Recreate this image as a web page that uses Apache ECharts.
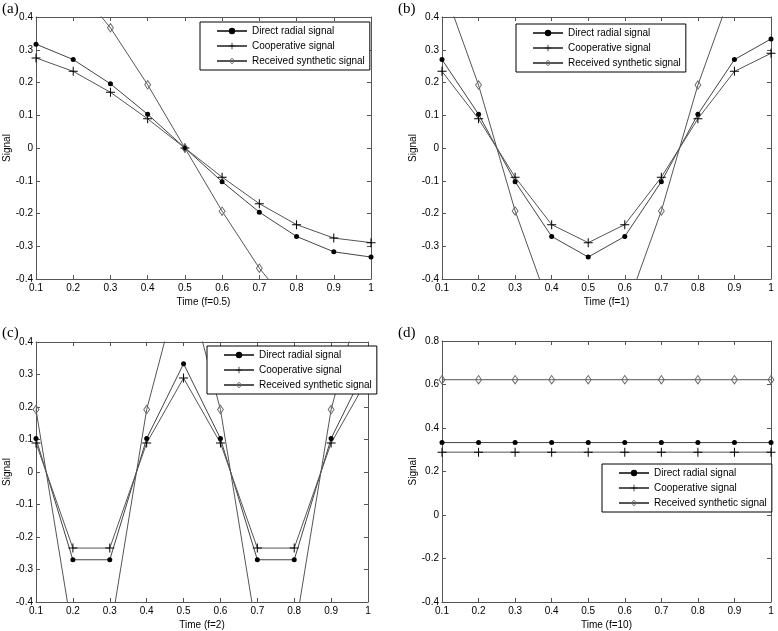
<!DOCTYPE html>
<html>
<head>
<meta charset="utf-8">
<script src="https://cdn.jsdelivr.net/npm/echarts@6/dist/echarts.min.js"></script>
<style>
  html, body { margin: 0; padding: 0; background: #fff; }
  #chart { width: 778px; height: 631px; }
</style>
</head>
<body>
<div id="chart"></div>
<script>
// time samples (x axis)
const timeTicks = [0.1, 0.2, 0.3, 0.4, 0.5, 0.6, 0.7, 0.8, 0.9, 1.0];

// (a) f=0.5
const directA = [0.317, 0.270, 0.196, 0.103, 0.000, -0.103, -0.196, -0.270, -0.317, -0.333];
const coopA   = [0.275, 0.234, 0.170, 0.089, 0.000, -0.089, -0.170, -0.234, -0.275, -0.289];
const synthA  = [0.594, 0.506, 0.367, 0.193, 0.000, -0.193, -0.367, -0.506, -0.594, -0.622];

// (b) f=1
const directB = [0.270, 0.103, -0.103, -0.270, -0.333, -0.270, -0.103, 0.103, 0.270, 0.333];
const coopB   = [0.234, 0.089, -0.089, -0.234, -0.289, -0.234, -0.089, 0.089, 0.234, 0.289];
const synthB  = [0.503, 0.192, -0.192, -0.503, -0.622, -0.503, -0.192, 0.192, 0.503, 0.622];

// (c) f=2
const directC = [0.103, -0.270, -0.270, 0.103, 0.333, 0.103, -0.270, -0.270, 0.103, 0.333];
const coopC   = [0.089, -0.234, -0.234, 0.089, 0.289, 0.089, -0.234, -0.234, 0.089, 0.289];
const synthC  = [0.192, -0.503, -0.503, 0.192, 0.622, 0.192, -0.503, -0.503, 0.192, 0.622];

// (d) f=10
const directD = [0.333, 0.333, 0.333, 0.333, 0.333, 0.333, 0.333, 0.333, 0.333, 0.333];
const coopD   = [0.289, 0.289, 0.289, 0.289, 0.289, 0.289, 0.289, 0.289, 0.289, 0.289];
const synthD  = [0.622, 0.622, 0.622, 0.622, 0.622, 0.622, 0.622, 0.622, 0.622, 0.622];

const panelLabels = ['(a)', '(b)', '(c)', '(d)'];
const xNames = ['Time (f=0.5)', 'Time (f=1)', 'Time (f=2)', 'Time (f=10)'];
const yRanges = [[-0.4, 0.4, 0.1], [-0.4, 0.4, 0.1], [-0.4, 0.4, 0.1], [-0.4, 0.8, 0.2]];
const seriesNames = ['Direct radial signal', 'Cooperative signal', 'Received synthetic signal'];

const panelData = [
    [directA, coopA, synthA],
    [directB, coopB, synthB],
    [directC, coopC, synthC],
    [directD, coopD, synthD]
];

// layout of the four boxes
const grids = [
    {left: 36, top: 17, width: 335, height: 262},
    {left: 442, top: 17, width: 329, height: 262},
    {left: 36, top: 342, width: 332, height: 261},
    {left: 442, top: 341, width: 329, height: 262}
];
const legendPos = [
    {left: 200, top: 22},
    {left: 516, top: 24},
    {left: 207, top: 346},
    {left: 602, top: 464}
];
const labelPos = [[2, 2], [398, 2], [2, 326], [398, 326]];

const FONT = 'Liberation Sans, Arial, sans-serif';
const frameColor = '#555';
// matlab-like markers: thin plus, hollow diamond
const plusPath = 'path://M0,4h9v1h-9z M4,0h1v9h-1z';
const diamondPath = 'path://M3.5,0L7,5L3.5,10L0,5Z M3.5,1.6L1.1,5L3.5,8.4L5.9,5Z';

var xAxes = [], yAxes = [], series = [], legends = [], texts = [];

grids.forEach(function (g, i) {
    // bottom + top x axes
    xAxes.push({
        type: 'value', gridIndex: i, min: 0.1, max: 1, interval: 0.1,
        name: xNames[i], nameLocation: 'middle', nameGap: 18,
        nameTextStyle: {fontFamily: FONT, fontSize: 10, color: '#000'},
        axisLine: {show: true, onZero: false, lineStyle: {color: frameColor, width: 1}},
        axisTick: {inside: true, length: 4, lineStyle: {color: frameColor}},
        axisLabel: {fontFamily: FONT, fontSize: 10, color: '#000', margin: 4, showMinLabel: true, showMaxLabel: true},
        splitLine: {show: false}
    });
    xAxes.push({
        type: 'value', gridIndex: i, position: 'top', min: 0.1, max: 1, interval: 0.1,
        axisLine: {show: true, onZero: false, lineStyle: {color: frameColor, width: 1}},
        axisTick: {inside: true, length: 4, lineStyle: {color: frameColor}},
        axisLabel: {show: false},
        splitLine: {show: false}
    });
    var yr = yRanges[i];
    yAxes.push({
        type: 'value', gridIndex: i, min: yr[0], max: yr[1], interval: yr[2],
        name: 'Signal', nameLocation: 'middle', nameGap: 23,
        nameTextStyle: {fontFamily: FONT, fontSize: 10, color: '#000'},
        axisLine: {show: true, onZero: false, lineStyle: {color: frameColor, width: 1}},
        axisTick: {inside: true, length: 4, lineStyle: {color: frameColor}},
        axisLabel: {fontFamily: FONT, fontSize: 10, color: '#000', margin: 3, showMinLabel: true, showMaxLabel: true},
        splitLine: {show: false}
    });
    yAxes.push({
        type: 'value', gridIndex: i, position: 'right', min: yr[0], max: yr[1], interval: yr[2],
        axisLine: {show: true, onZero: false, lineStyle: {color: frameColor, width: 1}},
        axisTick: {inside: true, length: 4, lineStyle: {color: frameColor}},
        axisLabel: {show: false},
        splitLine: {show: false}
    });

    var d = panelData[i];
    var base = {
        type: 'line', xAxisIndex: i * 2, yAxisIndex: i * 2,
        clip: true, animation: false, z: 2
    };
    series.push(Object.assign({}, base, {
        name: seriesNames[0],
        data: timeTicks.map(function (t, k) { return [t, d[0][k]]; }),
        symbol: 'circle', symbolSize: 5,
        itemStyle: {color: '#000', borderWidth: 0},
        lineStyle: {color: '#444', width: 1}
    }));
    series.push(Object.assign({}, base, {
        name: seriesNames[1],
        data: timeTicks.map(function (t, k) { return [t, d[1][k]]; }),
        symbol: plusPath, symbolSize: 9,
        itemStyle: {color: '#000', borderWidth: 0},
        lineStyle: {color: '#555', width: 1}
    }));
    series.push(Object.assign({}, base, {
        name: seriesNames[2],
        data: timeTicks.map(function (t, k) { return [t, d[2][k]]; }),
        symbol: diamondPath, symbolSize: [7, 10],
        itemStyle: {color: '#666', borderWidth: 0},
        lineStyle: {color: '#555', width: 1}
    }));

    legends.push({
        left: legendPos[i].left, top: legendPos[i].top,
        orient: 'vertical',
        data: seriesNames,
        itemWidth: 30, itemHeight: 8, itemGap: 5,
        padding: [4, 5, 4, 16],
        backgroundColor: '#fff', borderColor: '#000', borderWidth: 1, borderRadius: 0,
        textStyle: {fontFamily: FONT, fontSize: 10, color: '#000'},
        selectedMode: false
    });

    texts.push({
        type: 'text', left: labelPos[i][0], top: labelPos[i][1],
        style: {text: panelLabels[i], font: '15px "Liberation Serif", "Times New Roman", serif', fill: '#000'}
    });
});

var option = {
    backgroundColor: '#fff',
    animation: false,
    grid: grids.map(function (g) { return Object.assign({containLabel: false}, g); }),
    xAxis: xAxes,
    yAxis: yAxes,
    legend: legends,
    series: series,
    graphic: texts
};

var myChart = echarts.init(document.getElementById('chart'));
myChart.setOption(option);
</script>
</body>
</html>
